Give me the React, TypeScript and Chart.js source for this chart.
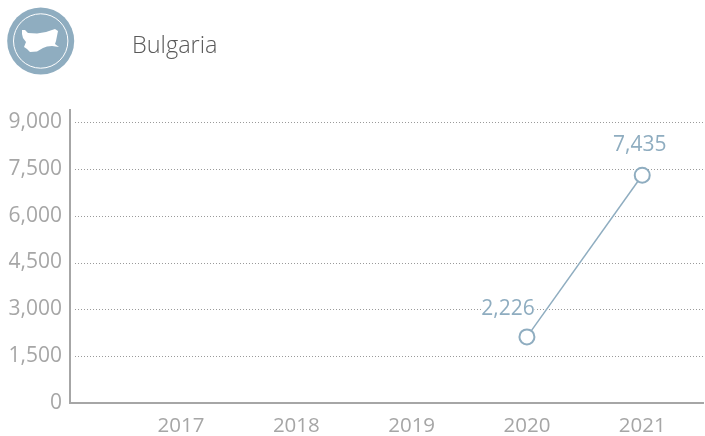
import React, { useEffect, useRef } from "react";
import { Chart, registerables } from "chart.js";

Chart.register(...registerables);

const years = [2017, 2018, 2019, 2020, 2021];
const pointYears = [2020, 2021];
const pointValues = [2118, 7296];
const pointLabels = ["2,226", "7,435"];
const yTicks = [0, 1500, 3000, 4500, 6000, 7500, 9000];
const title = "Bulgaria";

const BLUE = "#8fadc0";
const GREY = "#a6a6a6";
const FONT = '"Open Sans", sans-serif';

const overlay = {
  id: "overlay",
  beforeDatasetsDraw(chart: any) {
    const { ctx, scales, chartArea } = chart;
    ctx.save();
    ctx.strokeStyle = "#9a9a9a";
    ctx.lineWidth = 1;
    ctx.setLineDash([1, 2]);
    for (const v of yTicks) {
      if (v === 0) continue;
      const y = Math.round(scales.y.getPixelForValue(v)) + 0.5;
      ctx.beginPath();
      ctx.moveTo(chartArea.left + 5, y);
      ctx.lineTo(chartArea.right, y);
      ctx.stroke();
    }
    ctx.restore();
  },
  afterDatasetsDraw(chart: any) {
    const { ctx } = chart;
    const meta = chart.getDatasetMeta(0);
    ctx.save();
    ctx.font = `400 21px ${FONT}`;
    ctx.textAlign = "center";
    ctx.textBaseline = "middle";
    pointLabels.forEach((t, i) => {
      const el = meta.data[i];
      const x = el.x + (i === 0 ? -19 : -2.5);
      const y = el.y - (i === 0 ? 28 : 30);
      const w = ctx.measureText(t).width;
      if (i === 0) {
        ctx.fillStyle = "#fff";
        ctx.fillRect(x - w / 2, y - 11, w, 22);
      }
      ctx.fillStyle = BLUE;
      ctx.fillText(t, x, y);
    });
    ctx.restore();
  },
};

export default function App() {
  const ref = useRef<HTMLCanvasElement>(null);
  useEffect(() => {
    const chart = new Chart(ref.current!, {
      type: "line",
      data: {
        datasets: [
          {
            data: pointYears.map((x, i) => ({ x, y: pointValues[i] })),
            borderColor: BLUE,
            borderWidth: 1.5,
            pointBackgroundColor: "#fff",
            pointBorderColor: BLUE,
            pointBorderWidth: 2,
            pointRadius: 7.5,
            tension: 0,
          },
        ],
      },
      plugins: [overlay],
      options: {
        animation: false,
        responsive: false,
        layout: { autoPadding: false, padding: { top: 110, left: 0, right: 2, bottom: 0 } },
        plugins: { legend: { display: false }, tooltip: { enabled: false } },
        scales: {
          x: {
            type: "linear",
            min: 2016.037,
            max: 2021.527,
            afterBuildTicks: (s: any) => {
              s.ticks = years.map((value) => ({ value }));
            },
            afterFit: (s: any) => {
              s.paddingLeft = 0;
              s.paddingRight = 0;
              s.height = 33;
            },
            grid: { display: false },
            border: { color: GREY, width: 2 },
            ticks: {
              color: GREY,
              font: { family: FONT, size: 20.5, weight: "400" },
              padding: 3,
              maxRotation: 0,
              autoSkip: false,
              callback: (v: any) => String(v),
            },
          },
          y: {
            min: 0,
            max: 9385,
            afterBuildTicks: (s: any) => {
              s.ticks = yTicks.map((value) => ({ value }));
            },
            afterFit: (s: any) => {
              s.paddingTop = 0;
              s.paddingBottom = 0;
              s.width = 70;
            },
            grid: { display: false },
            border: { color: GREY, width: 2 },
            ticks: {
              color: GREY,
              font: { family: FONT, size: 21, weight: "400" },
              padding: 0,
              autoSkip: false,
              callback: (v: any) => Number(v).toLocaleString("en-US"),
            },
          },
        },
      },
    } as any);
    return () => chart.destroy();
  }, []);

  return (
    <div style={{ position: "fixed", left: 0, top: 0, width: 705, height: 436, background: "#fff", overflow: "hidden" }}>
      <canvas ref={ref} width={705} height={436} style={{ position: "absolute", left: 0, top: 0, display: "block" }} />
      <svg width={82} height={82} style={{ position: "absolute", left: 0, top: 0 }}>
        <circle cx={40.7} cy={41} r={33.5} fill={BLUE} />
        <circle cx={40.7} cy={41} r={27.2} fill="none" stroke="#fff" strokeWidth={1} />
        <path
          d="M22 30 L25 30 L28 33 L37 33.5 L46 32 L55 29 L58 31 L57 36 L56 41 L55 44 L59 47 L52 46 L47 46.5 L43 48 L37 51.5 L30 52 L27 49 L24 47 L26 42 L23 38 L22 34 Z"
          fill="#fff"
        />
      </svg>
      <div
        style={{
          position: "absolute",
          left: 132,
          top: 28,
          fontFamily: FONT,
          fontWeight: 300,
          fontSize: 23.5,
          lineHeight: "32px",
          color: "#595959",
        }}
      >
        {title}
      </div>
    </div>
  );
}
